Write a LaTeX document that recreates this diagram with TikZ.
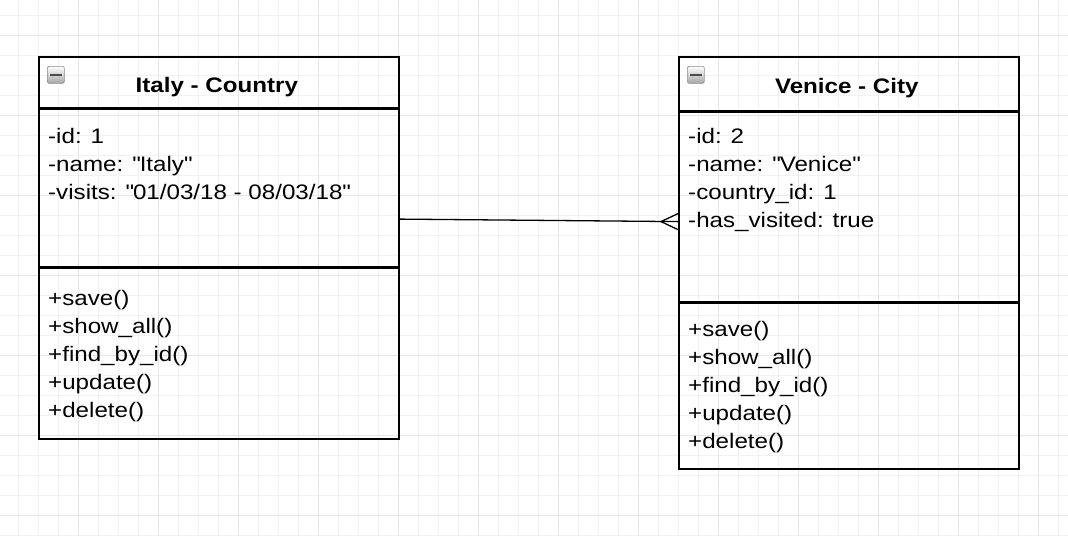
\documentclass[tikz,border=0pt]{standalone}
\usepackage{fontspec}
\setmainfont{Liberation Sans}[FakeStretch=1.15]
\usetikzlibrary{positioning,calc}

\tikzset{
  gridminor/.style={draw=black!5, line width=0.9pt},
  gridmajor/.style={draw=black!10, line width=0.9pt},
  part/.style={draw, line width=1.6pt, inner sep=0pt, anchor=north west},
  classname/.style={font=\bfseries\fontsize{21}{24}\selectfont, inner sep=0pt},
  members/.style={font=\fontsize{21}{28}\selectfont, align=left, inner sep=0pt, anchor=north west},
  collapse/.style={draw=black!45, rounded corners=1.5pt, top color=white, bottom color=black!35,
    line width=0.6pt, minimum size=17, inner sep=0pt, anchor=north west},
  link/.style={line width=1.3pt},
}

\begin{document}
\begin{tikzpicture}[x=1pt,y=-1pt]
\useasboundingbox (0,0) rectangle (1068,536);
% background grid
\foreach \x in {18,38,...,1058}
  \draw[gridminor] (\x,0) -- (\x,536);
\foreach \y in {15,35,...,535}
  \draw[gridminor] (0,\y) -- (1068,\y);
\foreach \x in {78,158,...,1038}
  \draw[gridmajor] (\x,0) -- (\x,536);
\foreach \y in {35,115,...,515}
  \draw[gridmajor] (0,\y) -- (1068,\y);

% Italy - Country
\node[part, minimum width=360, minimum height=51] (italy) at (38,56) {};
\node[part, minimum width=360, minimum height=157] (italyattr) at (italy.south west) {};
\node[part, minimum width=360, minimum height=171] (italyops) at (italyattr.south west) {};
\node[collapse] (italyicon) at ($(italy.north west)+(9,10)$) {};
\fill[black!70] ($(italyicon.center)+(-6,-1.3)$) rectangle ($(italyicon.center)+(6,1.3)$);
\node[classname] (italyname) at ($(italy.center)+(-2,5)$) {Italy - Country};
\node[members] (italyvars) at ($(italyattr.north west)+(10,19)$)
  {-id: 1\\-name: \textquotedbl Italy\textquotedbl\\-visits: \textquotedbl 01/03/18 - 08/03/18\textquotedbl};
\node[members] (italymeths) at ($(italyops.north west)+(10,23)$)
  {+save()\\+show\_all()\\+find\_by\_id()\\+update()\\+delete()};

% Venice - City
\node[part, minimum width=340, minimum height=54] (venice) at (678,56) {};
\node[part, minimum width=340, minimum height=189] (veniceattr) at (venice.south west) {};
\node[part, minimum width=340, minimum height=166] (veniceops) at (veniceattr.south west) {};
\node[collapse] (veniceicon) at ($(venice.north west)+(9,10)$) {};
\fill[black!70] ($(veniceicon.center)+(-6,-1.3)$) rectangle ($(veniceicon.center)+(6,1.3)$);
\node[classname] (venicename) at ($(venice.center)+(-2,4)$) {Venice - City};
\node[members] (venicevars) at ($(veniceattr.north west)+(10,16)$)
  {-id: 2\\-name: \textquotedbl Venice\textquotedbl\\-country\_id: 1\\-has\_visited: true};
\node[members] (venicemeths) at ($(veniceops.north west)+(10,19)$)
  {+save()\\+show\_all()\\+find\_by\_id()\\+update()\\+delete()};

% one country has many cities
\coordinate (italyout) at ($(italyattr.north east)+(0,110.5)$);
\coordinate (venicein) at ($(veniceattr.north west)+(0,110)$);
\draw[link] (italyout) -- (venicein);
\draw[link] ($(venicein)+(0,-8)$) -- ($(venicein)+(-17,0)$) -- ($(venicein)+(0,8)$);
\end{tikzpicture}
\end{document}
